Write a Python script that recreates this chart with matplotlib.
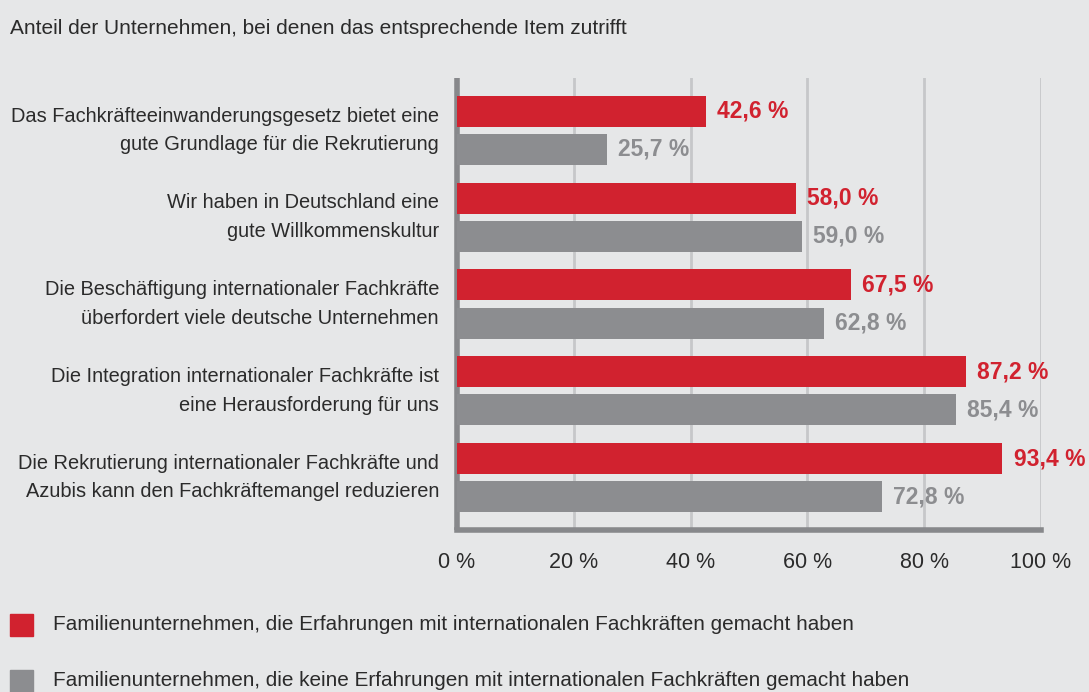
import matplotlib.pyplot as plt
from matplotlib.patches import Rectangle

plt.rcParams['font.family'] = ['Liberation Sans', 'DejaVu Sans']

categories = [
    "Das Fachkräfteeinwanderungsgesetz bietet eine\ngute Grundlage für die Rekrutierung",
    "Wir haben in Deutschland eine\ngute Willkommenskultur",
    "Die Beschäftigung internationaler Fachkräfte\nüberfordert viele deutsche Unternehmen",
    "Die Integration internationaler Fachkräfte ist\neine Herausforderung für uns",
    "Die Rekrutierung internationaler Fachkräfte und\nAzubis kann den Fachkräftemangel reduzieren",
]
mit_erfahrung = [42.6, 58.0, 67.5, 87.2, 93.4]
ohne_erfahrung = [25.7, 59.0, 62.8, 85.4, 72.8]
xticks = [0, 20, 40, 60, 80, 100]
legend_labels = [
    "Familienunternehmen, die Erfahrungen mit internationalen Fachkräften gemacht haben",
    "Familienunternehmen, die keine Erfahrungen mit internationalen Fachkräften gemacht haben",
]

bg = '#e6e7e8'
red = '#d1222f'
grey = '#8c8d90'
dark = '#2b2b2b'

W, H = 1089, 692
fig = plt.figure(figsize=(W / 100, H / 100), dpi=100, facecolor=bg)
ax = fig.add_axes([457 / W, 1 - 530 / H, (1041 - 457) / W, (530 - 78) / H])
ax.set_facecolor(bg)

bh = 0.357
off = 0.219
for i in range(len(categories)):
    ax.barh(i - off, mit_erfahrung[i], height=bh, color=red, zorder=3)
    ax.barh(i + off, ohne_erfahrung[i], height=bh, color=grey, zorder=3)
    ax.text(mit_erfahrung[i] + 1.9, i - off, f"{mit_erfahrung[i]:.1f} %".replace('.', ','),
            color=red, fontsize=16.5, fontweight='bold', va='center', ha='left')
    ax.text(ohne_erfahrung[i] + 1.9, i + off, f"{ohne_erfahrung[i]:.1f} %".replace('.', ','),
            color=grey, fontsize=16.5, fontweight='bold', va='center', ha='left')
    ax.text(-3.1, i, categories[i], ha='right', va='center', fontsize=14.4,
            color=dark, linespacing=1.62)

ax.set_xlim(0, 100)
ax.set_ylim(4.6, -0.6)
ax.set_yticks([])
ax.set_xticks(xticks)
ax.set_xticklabels([f"{t} %" for t in xticks], fontsize=15.5, color=dark)
ax.tick_params(axis='x', length=0, pad=16)

for t in xticks[1:]:
    ax.axvline(t, color='#c6c7c9', linewidth=2, zorder=1)

for s in ['top', 'right']:
    ax.spines[s].set_visible(False)
ax.spines['left'].set_color('#87888b')
ax.spines['left'].set_linewidth(4)
ax.spines['left'].set_capstyle('butt')
ax.spines['bottom'].set_color('#87888b')
ax.spines['bottom'].set_linewidth(4)

fig.text(10 / W, 1 - 28 / H, "Anteil der Unternehmen, bei denen das entsprechende Item zutrifft",
         fontsize=15, color=dark, va='center', ha='left')

# legend squares and labels
for k, (col, lab) in enumerate(zip([red, grey], legend_labels)):
    yc = 625 + k * 56
    fig.patches.append(Rectangle((10 / W, 1 - (yc + 11) / H), 23 / W, 22 / H,
                                 transform=fig.transFigure, color=col, figure=fig))
    fig.text(53 / W, 1 - yc / H, lab, fontsize=14.95, color=dark, va='center', ha='left')

fig.savefig('out.png', dpi=100, facecolor=bg)
